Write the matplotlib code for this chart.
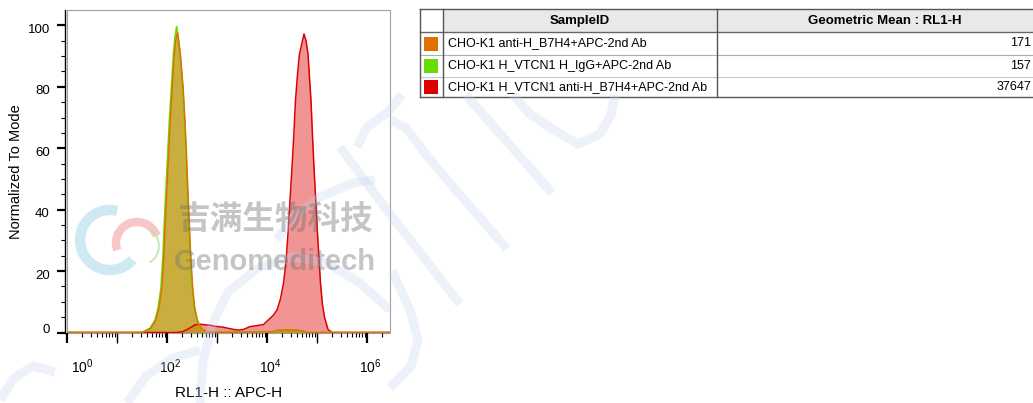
import matplotlib
matplotlib.use('Agg')
import matplotlib.pyplot as plt
import numpy as np
from matplotlib.patches import Rectangle, Arc
from matplotlib.transforms import ScaledTranslation

plt.rcParams['font.family'] = ['Liberation Sans', 'DejaVu Sans']
plt.rcParams['mathtext.fontset'] = 'custom'
plt.rcParams['mathtext.rm'] = 'Liberation Sans'
plt.rcParams['mathtext.it'] = 'Liberation Sans'

# histogram data: x as decade exponent (log10 of RL1-H), y as % of mode
orange_log = [0, 1.48, 1.56, 1.68, 1.78, 1.845, 1.9, 1.94, 1.967, 2.0, 2.033, 2.067, 2.105, 2.145, 2.178, 2.205,
              2.237, 2.275, 2.325, 2.36, 2.39, 2.415, 2.443, 2.472, 2.512, 2.552, 2.605, 2.68, 2.78, 2.9, 3.5,
              4.1, 4.2, 4.4, 4.6, 4.72, 4.8, 6.46]
orange_val = [0, 0, 0.3, 1.4, 4.1, 8.4, 14.9, 25.7, 36.5, 47.3, 58.2, 69, 79.8, 90.6, 95.5, 97.6,
              94.5, 89, 79, 68.5, 58, 47.3, 36.5, 25.7, 14.9, 8.4, 4.1, 1.4, 0.3, 0.1, 0.1,
              0.2, 0.7, 0.9, 0.8, 0.4, 0, 0]
green_log = [0, 1.45, 1.527, 1.66, 1.76, 1.827, 1.88, 1.92, 1.947, 1.98, 2.013, 2.047, 2.087, 2.127, 2.16, 2.193,
             2.227, 2.265, 2.315, 2.35, 2.378, 2.405, 2.433, 2.46, 2.5, 2.54, 2.595, 2.67, 2.77, 2.9, 3.5,
             4.1, 4.2, 4.4, 4.6, 4.72, 4.8, 6.46]
green_val = [0, 0, 0.3, 1.4, 4.1, 8.4, 14.9, 25.7, 36.5, 47.3, 58.2, 69, 79.8, 90.6, 96.5, 99.6,
             96, 90.6, 79.8, 69, 58.2, 47.3, 36.5, 25.7, 14.9, 8.4, 4.1, 1.4, 0.3, 0.1, 0.1,
             0.2, 0.6, 0.8, 0.7, 0.4, 0, 0]
red_log = [0, 2.2, 2.32, 2.45, 2.56, 2.66, 2.76, 2.86, 2.93, 3.13, 3.33, 3.43, 3.53, 3.66, 3.78, 3.86, 3.93,
           4.02, 4.12, 4.2, 4.27, 4.33, 4.38, 4.42, 4.46, 4.50, 4.535, 4.57, 4.61, 4.65, 4.69,
           4.74, 4.78, 4.82, 4.85, 4.88, 4.91, 4.94, 4.975, 5.01, 5.04, 5.07, 5.11, 5.15, 5.22,
           5.3, 6.46]
red_val = [0, 0, 0.3, 1.4, 2.5, 2.7, 2.5, 2.4, 2.1, 1.7, 1.0, 0.8, 1.0, 1.9, 2.2, 2.4, 2.6,
           4.0, 5.5, 7.3, 11, 16, 23, 32.3, 43, 53.8, 64, 75.5, 84, 90.7, 93.5,
           97.2, 95, 90.7, 83, 75.5, 64, 53.8, 43, 32.3, 24, 16, 9, 5, 1,
           0, 0]

# table data
sample_ids = ['CHO-K1 anti-H_B7H4+APC-2nd Ab',
              'CHO-K1 H_VTCN1 H_IgG+APC-2nd Ab',
              'CHO-K1 H_VTCN1 anti-H_B7H4+APC-2nd Ab']
geo_means = ['171', '157', '37647']
sample_colors = ['#e07000', '#66dd00', '#dd0000']

W, H = 1033, 403
fig = plt.figure(figsize=(W / 100, H / 100), dpi=100)
ax = fig.add_axes([67 / W, (H - 332.5) / H, 323 / W, 322.5 / H])

series = [(red_log, red_val, sample_colors[2], 0.42),
          (green_log, green_val, sample_colors[1], 0.5),
          (orange_log, orange_val, sample_colors[0], 0.5)]
for lg, val, col, a in series:
    x = 10 ** np.array(lg)
    ax.fill_between(x, val, 0, color=col, alpha=a, lw=0)
    ax.plot(x, val, color=col, lw=1.1)

ax.set_xscale('log')
ax.set_xlim(1, 10 ** 6.46)
ax.set_ylim(0, 105)

# axes look: gray frame, black offset y axis, ticks below the frame
for s in ['top', 'right', 'bottom']:
    ax.spines[s].set_visible(False)
ax.spines['left'].set_position(('outward', 1.8))
ax.spines['left'].set_color('black')
ax.spines['left'].set_linewidth(1.0)
ax.add_patch(Rectangle((0, 0), 1, 1, transform=ax.transAxes, fill=False,
                       ec='#a0a0a0', lw=0.8, zorder=0.5, clip_on=False))

ax.set_yticks([0, 20, 40, 60, 80, 100])
ax.set_yticks(np.arange(0, 105, 5), minor=True)
ax.tick_params(axis='y', which='major', length=5.5, width=1.6, pad=5, labelsize=9.5)
ax.tick_params(axis='y', which='minor', length=2.8, width=0.8)
for k, lab in enumerate(ax.get_yticklabels()):
    dy = 4 if k == 0 else -3
    lab.set_transform(lab.get_transform() + ScaledTranslation(0, dy / 100, fig.dpi_scale_trans))

decades = [10.0 ** k for k in range(0, 7)]
ax.set_xticks(decades)
ax.set_xticklabels([r'$10^{%d}$' % k if k % 2 == 0 else '' for k in range(0, 7)])
minors = [m * 10.0 ** k for k in range(0, 7) for m in range(2, 10) if m * 10.0 ** k < 10 ** 6.46]
ax.set_xticks(minors, minor=True)
ax.xaxis.set_minor_formatter(plt.NullFormatter())
ax.tick_params(axis='x', which='major', length=7.2, width=1.6, pad=11, labelsize=10)
ax.tick_params(axis='x', which='minor', length=3.0, width=0.8)
for k, t in enumerate(ax.xaxis.get_major_ticks()):
    if k % 2 == 1:
        t.tick1line.set_markeredgewidth(1.0)
for k, lab in enumerate(ax.get_xticklabels()):
    dx = 15 if k == 0 else 3
    lab.set_transform(lab.get_transform() + ScaledTranslation(dx / 100, 0, fig.dpi_scale_trans))

ax.set_xlabel('RL1-H :: APC-H', fontsize=11)
ax.xaxis.set_label_coords(0.5, -60.5 / 322.5)
ax.xaxis.label.set_va('center')
ax.set_ylabel('Normalized To Mode', fontsize=10.5)
ax.yaxis.set_label_coords(-51 / 323, 0.5)
ax.yaxis.label.set_va('center')

# overlay in pixel coordinates for the table and the watermark
ov = fig.add_axes([0, 0, 1, 1], zorder=5)
ov.set_xlim(0, W)
ov.set_ylim(H, 0)
ov.axis('off')
ov.patch.set_alpha(0)

tl, c1, c2, tr = 420, 443, 717, 1033
rows = [9, 32, 55, 77, 97]
ov.add_patch(Rectangle((c1, rows[0]), tr - c1, rows[1] - rows[0], fc='#e9e9e9', ec='none'))
ov.plot([tl, tr], [rows[0], rows[0]], color='#555555', lw=1)
ov.plot([tl, tr], [rows[1], rows[1]], color='#666666', lw=1)
ov.plot([tl, tr], [rows[2], rows[2]], color='#b0b0b0', lw=0.8)
ov.plot([tl, tr], [rows[3], rows[3]], color='#c8c8c8', lw=0.8)
ov.plot([tl, tr], [rows[4], rows[4]], color='#555555', lw=1)
for xv in [tl, c1, c2]:
    ov.plot([xv, xv], [rows[0], rows[4]], color='#555555', lw=1)
ov.text((c1 + c2) / 2, 21, 'SampleID', ha='center', va='center', fontsize=9.5, fontweight='bold')
ov.text(885, 21, 'Geometric Mean : RL1-H', ha='center', va='center', fontsize=9.5, fontweight='bold')
for i, (sid, gm, col) in enumerate(zip(sample_ids, geo_means, sample_colors)):
    yc = (rows[i + 1] + rows[i + 2]) / 2
    ov.add_patch(Rectangle((423.5, yc - 7), 14, 14, fc=col, ec='none'))
    ov.text(448, yc, sid, ha='left', va='center', fontsize=9)
    ov.text(1031, yc, gm, ha='right', va='center', fontsize=9)

# watermark: faint strokes, logo and company name
wm = '#c5d3ee'
strokes = [
    [(466, 95), (552, 193)],
    [(390, 120), (406, 128), (431, 161), (507, 249)],
    [(340, 147), (390, 214), (460, 304)],
    [(513, 95), (530, 114), (554, 130), (578, 144), (600, 134), (611, 115), (615, 95)],
    [(392, 271), (410, 310), (418, 340), (411, 366), (390, 388)],
    [(200, 403), (203, 362), (212, 325), (228, 292), (258, 268), (293, 257), (327, 263), (360, 283), (390, 310)],
    [(0, 400), (14, 378), (33, 366), (55, 372)],
    [(277, 240), (293, 217), (320, 197), (353, 183), (375, 180)],
    [(357, 147), (367, 127), (388, 112), (402, 95)],
    [(127, 403), (146, 376), (173, 358), (200, 350)],
]
for st in strokes:
    xs, ys = zip(*st)
    ov.plot(xs, ys, color=wm, lw=6.5, alpha=0.3, solid_capstyle='butt')

ov.add_patch(Arc((110, 240), 60, 60, theta1=41, theta2=284, color='#a8d8ea', lw=7.5, alpha=0.55))
ov.add_patch(Arc((137, 243), 42, 42, theta1=160, theta2=340, color='#f3a3a3', lw=6, alpha=0.6))
ov.add_patch(Arc((140, 246), 38, 38, theta1=300, theta2=420, color='#bfe3a8', lw=1.5, alpha=0.8))
ov.text(275, 220, '吉满生物科技', family=['Noto Sans CJK SC', 'DejaVu Sans'], fontsize=23.5,
        fontweight='bold', color='#707070', alpha=0.4, ha='center', va='center')
ov.text(275, 262, 'Genomeditech', fontsize=21, fontweight='bold', color='#707070', alpha=0.4,
        ha='center', va='center')

fig.savefig('out.png', dpi=100)
